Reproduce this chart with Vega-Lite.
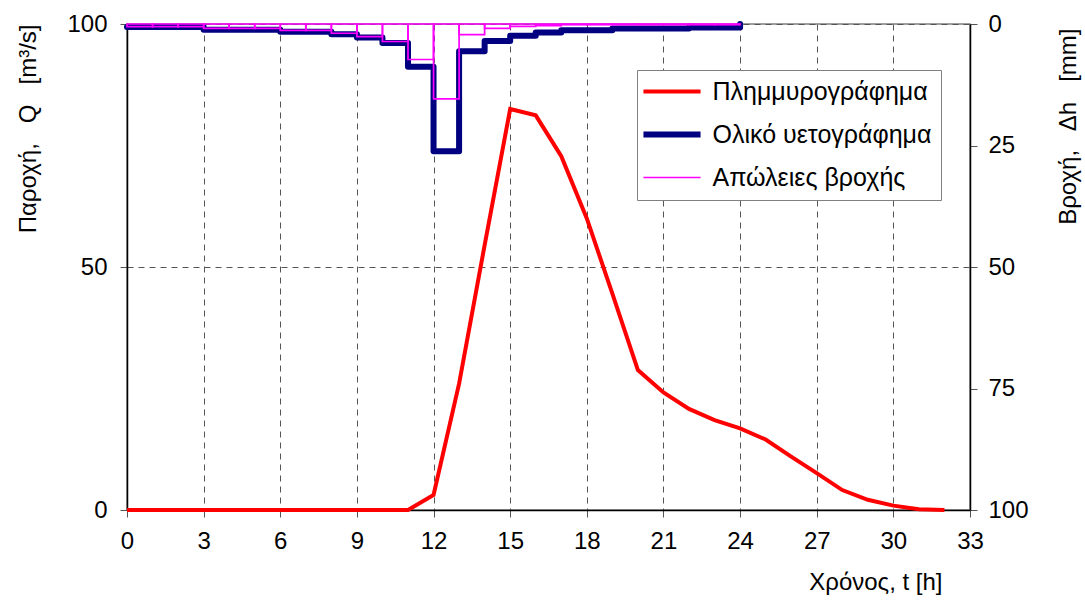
{
  "$schema": "https://vega.github.io/schema/vega-lite/v6.json",
  "width": 843,
  "height": 486,
  "autosize": {"type": "none"},
  "padding": {"left": 127, "top": 24, "right": 115, "bottom": 106},
  "background": "white",
  "config": {
    "font": "Liberation Sans",
    "view": {"stroke": "#808080", "strokeWidth": 1.5},
    "axis": {
      "labelFont": "Liberation Sans",
      "titleFont": "Liberation Sans",
      "labelFontSize": 24,
      "titleFontSize": 24,
      "titleFontWeight": "normal",
      "labelColor": "black",
      "titleColor": "black",
      "domainColor": "black",
      "domainWidth": 1.5,
      "tickColor": "#555555",
      "tickSize": 7,
      "gridColor": "#555555",
      "gridDash": [6, 5],
      "gridWidth": 1
    }
  },
  "datasets": {
    "flow": [
      {"t": 0, "Q": 0}, {"t": 1, "Q": 0}, {"t": 2, "Q": 0}, {"t": 3, "Q": 0},
      {"t": 4, "Q": 0}, {"t": 5, "Q": 0}, {"t": 6, "Q": 0}, {"t": 7, "Q": 0},
      {"t": 8, "Q": 0}, {"t": 9, "Q": 0}, {"t": 10, "Q": 0}, {"t": 11, "Q": 0},
      {"t": 12, "Q": 3.1}, {"t": 13, "Q": 26}, {"t": 14, "Q": 54.5}, {"t": 15, "Q": 82.5},
      {"t": 16, "Q": 81.2}, {"t": 17, "Q": 72.8}, {"t": 18, "Q": 60}, {"t": 19, "Q": 44.5},
      {"t": 20, "Q": 28.8}, {"t": 21, "Q": 24.2}, {"t": 22, "Q": 20.8}, {"t": 23, "Q": 18.5},
      {"t": 24, "Q": 16.8}, {"t": 25, "Q": 14.5}, {"t": 26, "Q": 11}, {"t": 27, "Q": 7.6},
      {"t": 28, "Q": 4.1}, {"t": 29, "Q": 2.1}, {"t": 30, "Q": 0.9}, {"t": 31, "Q": 0.15},
      {"t": 32, "Q": 0}
    ],
    "total": [
      {"t": 0, "h": 0.6}, {"t": 1, "h": 0.6}, {"t": 2, "h": 0.6}, {"t": 3, "h": 1.2},
      {"t": 4, "h": 1.2}, {"t": 5, "h": 1.2}, {"t": 6, "h": 1.6}, {"t": 7, "h": 1.6},
      {"t": 8, "h": 2.1}, {"t": 9, "h": 2.8}, {"t": 10, "h": 3.9}, {"t": 11, "h": 8.8},
      {"t": 12, "h": 26.2}, {"t": 13, "h": 5.6}, {"t": 14, "h": 3.5}, {"t": 15, "h": 2.4},
      {"t": 16, "h": 1.75}, {"t": 17, "h": 1.3}, {"t": 18, "h": 1.3}, {"t": 19, "h": 0.95},
      {"t": 20, "h": 0.95}, {"t": 21, "h": 0.95}, {"t": 22, "h": 0.7}, {"t": 23, "h": 0.7},
      {"t": 24, "h": 0}
    ],
    "loss": [
      {"t": 0, "t2": 1, "h": 0.55}, {"t": 1, "t2": 2, "h": 0.55}, {"t": 2, "t2": 3, "h": 0.55},
      {"t": 3, "t2": 4, "h": 0.9}, {"t": 4, "t2": 5, "h": 0.9}, {"t": 5, "t2": 6, "h": 0.9},
      {"t": 6, "t2": 7, "h": 1.3}, {"t": 7, "t2": 8, "h": 1.3}, {"t": 8, "t2": 9, "h": 1.9},
      {"t": 9, "t2": 10, "h": 2.6}, {"t": 10, "t2": 11, "h": 3.6}, {"t": 11, "t2": 12, "h": 7.3},
      {"t": 12, "t2": 13, "h": 15.4}, {"t": 13, "t2": 14, "h": 2.2}, {"t": 14, "t2": 15, "h": 0.9},
      {"t": 15, "t2": 16, "h": 0.5}, {"t": 16, "t2": 17, "h": 0.35}, {"t": 17, "t2": 18, "h": 0.15},
      {"t": 18, "t2": 19, "h": 0.15}, {"t": 19, "t2": 20, "h": 0.15}, {"t": 20, "t2": 21, "h": 0.15},
      {"t": 21, "t2": 22, "h": 0.15}, {"t": 22, "t2": 23, "h": 0.15}, {"t": 23, "t2": 24, "h": 0.15}
    ]
  },
  "encoding": {
    "x": {
      "field": "t",
      "type": "quantitative",
      "scale": {"domain": [0, 33], "nice": false},
      "axis": {
        "values": [0, 3, 6, 9, 12, 15, 18, 21, 24, 27, 30, 33],
        "grid": true,
        "title": "Χρόνος, t [h]",
        "titleX": 815,
        "titleY": 79,
        "titleAlign": "right",
        "titleAnchor": null,
        "titleBaseline": "alphabetic",
        "labelPadding": 12,
        "labelFlush": false
      }
    }
  },
  "layer": [
    {
      "data": {"name": "flow"},
      "mark": {"type": "line", "strokeWidth": 4},
      "encoding": {
        "y": {
          "field": "Q",
          "type": "quantitative",
          "scale": {"domain": [0, 100], "nice": false},
          "axis": {
            "values": [0, 50, 100],
            "grid": true,
            "title": "Παροχή,\u00a0\u00a0 Q\u00a0\u00a0 [m³/s]",
            "titleAngle": 270,
            "titleX": -99,
            "titleY": 0,
            "titleAlign": "right",
            "titleBaseline": "middle",
            "titleAnchor": null,
            "labelPadding": 13,
            "labelFlush": false
          }
        },
        "color": {
          "datum": "Πλημμυρογράφημα",
          "type": "nominal",
          "scale": {
            "domain": ["Πλημμυρογράφημα", "Ολικό υετογράφημα", "Απώλειες βροχής"],
            "range": ["#FF0000", "#000080", "#FF00FF"]
          },
          "legend": {
            "orient": "none",
            "legendX": 510,
            "legendY": 46,
            "title": null,
            "symbolType": "M-2.04,0H2.04",
            "symbolSize": 784,
            "symbolStrokeWidth": 2,
            "symbolOffset": 13.5,
            "labelOffset": 28,
            "rowPadding": 17,
            "padding": 9,
            "strokeColor": "#808080",
            "fillColor": "white",
            "labelFontSize": 25,
            "labelFont": "Liberation Sans",
            "labelColor": "black",
            "labelLimit": 400,
            "encode": {
              "symbols": {
                "update": {
                  "strokeWidth": {"signal": "datum.value === 'Ολικό υετογράφημα' ? 6 : (datum.value === 'Πλημμυρογράφημα' ? 4 : 1.7)"},
                  "fill": {"value": "transparent"}
                }
              }
            }
          }
        }
      }
    },
    {
      "encoding": {
        "y": {
          "field": "h",
          "type": "quantitative",
          "scale": {"domain": [0, 100], "reverse": true, "nice": false},
          "axis": {
            "orient": "right",
            "values": [0, 25, 50, 75, 100],
            "grid": false,
            "title": "Βροχή,\u00a0\u00a0 Δh\u00a0\u00a0 [mm]",
            "titleAngle": 270,
            "titleX": 98,
            "titleY": 4,
            "titleAlign": "right",
            "titleBaseline": "middle",
            "titleAnchor": null,
            "labelPadding": 11,
            "labelFlush": false
          }
        }
      },
      "layer": [
        {
          "data": {"name": "total"},
          "mark": {"type": "line", "interpolate": "step-after", "strokeWidth": 6, "strokeJoin": "round", "strokeCap": "round"},
          "encoding": {
            "color": {"datum": "Ολικό υετογράφημα", "type": "nominal"}
          }
        },
        {
          "data": {"name": "loss"},
          "mark": {"type": "rect", "filled": false, "strokeWidth": 1.7},
          "encoding": {
            "x2": {"field": "t2"},
            "y2": {"datum": 0},
            "color": {"datum": "Απώλειες βροχής", "type": "nominal"}
          }
        }
      ]
    }
  ],
  "resolve": {"scale": {"y": "independent"}}
}
